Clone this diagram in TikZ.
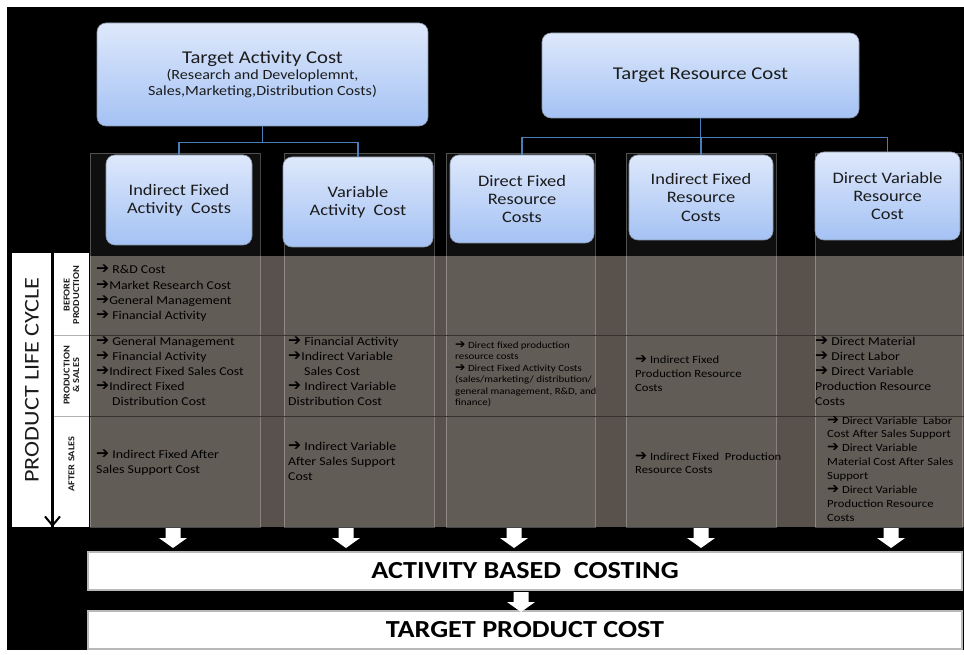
\documentclass[tikz,border=0pt]{standalone}
\usepackage{fontspec}
\setmainfont{Carlito}[FakeStretch=1.15]
\newfontfamily\arrowfont{DejaVu Sans}[Scale=1.3]
\usetikzlibrary{arrows.meta}

\definecolor{boxtop}{HTML}{DEE8FB}
\definecolor{boxbot}{HTML}{A4C2F4}
\definecolor{boxline}{HTML}{8A96A8}
\definecolor{linkblue}{HTML}{4A7EBB}
\definecolor{bandgray}{HTML}{59524C}
\definecolor{rowdark}{HTML}{38322E}
\definecolor{inktext}{HTML}{1C1C1C}

\newcommand{\carr}{{\arrowfont ➔}}

\tikzset{
    costbox/.style={draw=boxline, line width=0.6pt, rounded corners=9pt,
        top color=boxtop, bottom color=boxbot, align=center, text=inktext, inner sep=0pt},
    childfont/.style={font=\fontsize{16}{18.3}\selectfont},
    colframe/.style={fill=white, fill opacity=0.06, draw=white, draw opacity=0.28, line width=0.8pt},
    link/.style={draw=linkblue, line width=1.5pt},
    cell/.style={anchor=north west, inner sep=0pt, align=left, text=black},
    stagelabel/.style={rotate=90, align=center, inner sep=0pt,
        font=\bfseries\fontsize{9}{9.5}\selectfont, text=inktext},
    whitebar/.style={fill=white, draw=gray!55, line width=1.2pt, inner sep=0pt,
        font=\bfseries\fontsize{24.5}{29}\selectfont, text=black},
    downarrow/.pic={\fill[white] (-7.5,0) -- (7.5,0) -- (7.5,10) -- (14,10) -- (0,20) -- (-14,10) -- (-7.5,10) -- cycle;}
}

\begin{document}
\begin{tikzpicture}[x=1pt,y=-1pt]

    % page and dark panel
    \useasboundingbox[fill=white] (0,0) rectangle (964,655);
    \fill[black] (7,7) rectangle (964,650);

    % the band with the three stages, and the five columns over it
    \fill[bandgray] (90,256) rectangle (964,527);
    \foreach \l/\r in {90/260,284/434,446/595,626/776,815/962}
        \draw[colframe] (\l,153) rectangle (\r,527);
    \draw[rowdark, line width=0.8pt] (90,335) -- (964,335);
    \draw[rowdark, line width=0.8pt] (90,416) -- (964,416);

    % target costs
    \node[costbox, minimum width=331pt, minimum height=103pt, font=\fontsize{14}{16}\selectfont] (tac) at (262.5,74.5)
        {{\fontsize{18}{21}\selectfont Target Activity Cost}\\(Research and Developlemnt,\\Sales,Marketing,Distribution Costs)};
    \node[costbox, minimum width=317pt, minimum height=85pt, font=\fontsize{18}{21}\selectfont] (trc) at (700.5,75.5)
        {Target Resource Cost};

    \node[costbox, childfont, minimum width=146pt, minimum height=90pt] (ifa) at (179,200) {Indirect Fixed\\Activity\ \ Costs};
    \node[costbox, childfont, minimum width=150pt, minimum height=90pt] (vac) at (358,202) {Variable\\Activity\ \ Cost};
    \node[costbox, childfont, minimum width=144pt, minimum height=88pt] (dfr) at (522,199) {Direct Fixed\\Resource\\Costs};
    \node[costbox, childfont, minimum width=144pt, minimum height=85pt] (ifr) at (701,197.5) {Indirect Fixed\\Resource\\Costs};
    \node[costbox, childfont, minimum width=145pt, minimum height=88pt] (dvr) at (887.5,196) {Direct Variable\\Resource\\Cost};

    \draw[link] (tac.south) -- ++(0,16) -| (ifa.north);
    \draw[link] (tac.south) -- ++(0,16) -| (vac.north);
    \draw[link] (trc.south) -- ++(0,19) -| (dfr.north);
    \draw[link] (trc.south) -- ++(0,19) -| (ifr.north);
    \draw[link] (trc.south) -- ++(0,19) -| (dvr.north);

    % life cycle labels on the left
    \fill[white] (12,253) rectangle (51,527);
    \fill[white] (54,253) rectangle (89,527);
    \draw[gray!60, line width=0.6pt] (54,335) -- (89,335);
    \draw[gray!60, line width=0.6pt] (54,416) -- (89,416);
    \node[rotate=90, inner sep=0pt, text=inktext, font=\fontsize{21}{24}\selectfont] (plc) at (32,380) {PRODUCT LIFE CYCLE};
    \coordinate (lifetop) at (52.5,253);
    \coordinate (lifeend) at (52.5,527);
    \draw[line width=2pt, -{Straight Barb[length=9pt,width=15pt]}] (lifetop) -- (lifeend);

    \node[stagelabel] (before) at (71.5,295) {BEFORE\\PRODUCTION};
    \node[stagelabel] (during) at (71.5,375.5) {PRODUCTION\\\& SALES};
    \node[stagelabel] (after) at (71.5,464) {AFTER SALES};

    % column 1
    \node[cell, font=\fontsize{12}{15.3}\selectfont] (c1r1) at (96,265)
        {\carr{} R\&D Cost\\\carr Market Research Cost\\\carr General Management\\\carr{} Financial Activity};
    \node[cell, font=\fontsize{12}{15}\selectfont] (c1r2) at (96,337)
        {\carr{} General Management\\\carr{} Financial Activity\\\carr Indirect Fixed Sales Cost\\\carr Indirect Fixed\\\hspace*{16pt}Distribution Cost};
    \node[cell, font=\fontsize{12}{15}\selectfont] (c1r3) at (96,450)
        {\carr{} Indirect Fixed After\\Sales Support Cost};

    % column 2
    \node[cell, font=\fontsize{12}{15}\selectfont] (c2r2) at (288,337)
        {\carr{} Financial Activity\\\carr Indirect Variable\\\hspace*{16pt}Sales Cost\\\carr{} Indirect Variable\\Distribution Cost};
    \node[cell, font=\fontsize{12}{15}\selectfont] (c2r3) at (288,442)
        {\carr{} Indirect Variable\\After Sales Support\\Cost};

    % column 3
    \node[cell, font=\fontsize{9.5}{11.5}\selectfont] (c3r2) at (455,341)
        {\carr{} Direct fixed production\\resource costs\\\carr{} Direct Fixed Activity Costs\\(sales/marketing/ distribution/\\general management, R\&D, and\\finance)};

    % column 4
    \node[cell, font=\fontsize{11}{14}\selectfont] (c4r2) at (635,355)
        {\carr{} Indirect Fixed\\Production Resource\\Costs};
    \node[cell, font=\fontsize{11}{13.3}\selectfont] (c4r3) at (635,452)
        {\carr{} Indirect Fixed\ \ Production\\Resource Costs};

    % column 5
    \node[cell, font=\fontsize{12}{15}\selectfont] (c5r2) at (815,337)
        {\carr{} Direct Material\\\carr{} Direct Labor\\\carr{} Direct Variable\\Production Resource\\Costs};
    \node[cell, font=\fontsize{11}{13.9}\selectfont] (c5r3) at (827,416)
        {\carr{} Direct Variable\ \ Labor\\Cost After Sales Support\\\carr{} Direct Variable\\Material Cost After Sales\\Support\\\carr{} Direct Variable\\Production Resource\\Costs};

    % costing bars
    \node[whitebar, minimum width=874pt, minimum height=38pt] (abc) at (525,571) {ACTIVITY BASED\ \ COSTING};
    \node[whitebar, minimum width=874pt, minimum height=38pt] (tpc) at (525,630) {TARGET PRODUCT COST};
    \foreach \x in {173,346,514,701,891}
        \pic at (\x,528) {downarrow};
    \pic at (521,592) {downarrow};

\end{tikzpicture}
\end{document}
